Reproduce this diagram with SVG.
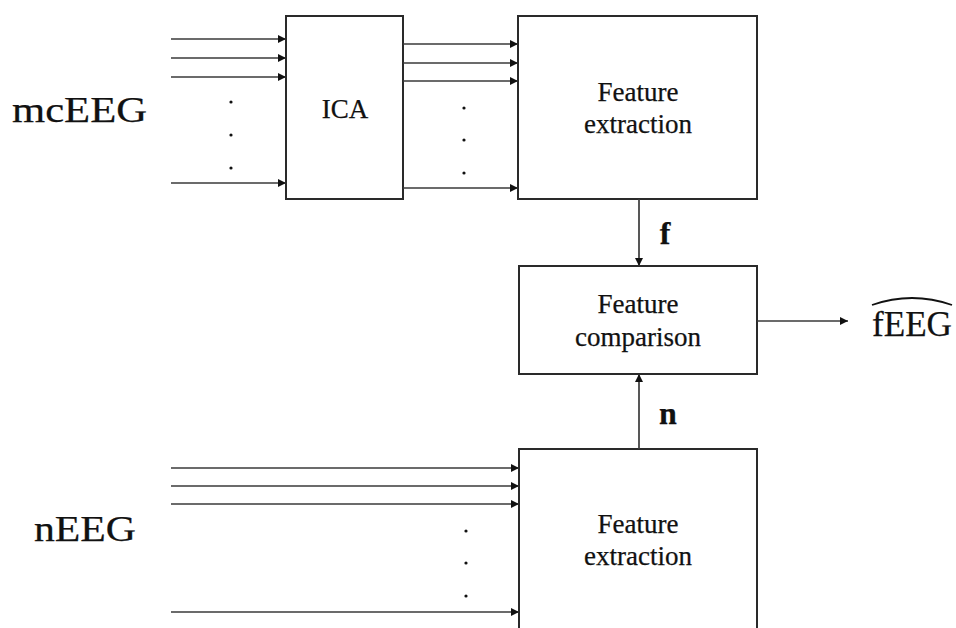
<svg xmlns="http://www.w3.org/2000/svg" width="956" height="628" viewBox="0 0 956 628">
  <style>
    .box { fill: #ffffff; stroke: #2a2a2a; stroke-width: 2; }
    .wire { fill: none; stroke: #3a3a3a; stroke-width: 1.7; }
    .lbl { font-family: "Liberation Serif", "Times New Roman", serif; fill: #111111; stroke: #111111; stroke-width: 0.25; }
    .blk { font-size: 27px; text-anchor: middle; }
    .sig { font-size: 35px; }
    .bold { font-size: 32px; font-weight: bold; }
    .dot { fill: #111111; }
  </style>
  <defs>
    <marker id="arr" viewBox="0 0 10 10" refX="10" refY="5" markerWidth="9" markerHeight="8" markerUnits="userSpaceOnUse" orient="auto">
      <path d="M0,0 L10,5 L0,10 z" fill="#111111"/>
    </marker>
  </defs>

  <rect width="956" height="628" fill="#ffffff"/>

  <!-- signal labels -->
  <text class="lbl sig" x="12" y="122" textLength="135" lengthAdjust="spacingAndGlyphs">mcEEG</text>
  <text class="lbl sig" x="34" y="541" textLength="102" lengthAdjust="spacingAndGlyphs">nEEG</text>

  <g id="ica">
    <rect class="box" x="286" y="16" width="117" height="183"/>
    <text class="lbl blk" x="345" y="118">ICA</text>
  </g>

  <g id="feat-top">
    <rect class="box" x="518" y="16" width="239" height="183"/>
    <text class="lbl blk" x="638" y="101">Feature</text>
    <text class="lbl blk" x="638" y="133">extraction</text>
  </g>

  <g id="compare">
    <rect class="box" x="519" y="266" width="238" height="108"/>
    <text class="lbl blk" x="638" y="313">Feature</text>
    <text class="lbl blk" x="638" y="346">comparison</text>
  </g>

  <g id="feat-bottom">
    <rect class="box" x="519" y="449" width="238" height="190"/>
    <text class="lbl blk" x="638" y="533">Feature</text>
    <text class="lbl blk" x="638" y="565">extraction</text>
  </g>

  <g id="output">
    <text class="lbl" x="872" y="336" font-size="35" textLength="80" lengthAdjust="spacingAndGlyphs">fEEG</text>
    <path d="M872,305 Q912,291 952,305" fill="none" stroke="#111111" stroke-width="1.8"/>
  </g>

  <g id="connectors">
    <!-- mcEEG channels into ICA -->
    <line class="wire" x1="171" y1="39" x2="286" y2="39" marker-end="url(#arr)"/>
    <line class="wire" x1="171" y1="58" x2="286" y2="58" marker-end="url(#arr)"/>
    <line class="wire" x1="171" y1="77" x2="286" y2="77" marker-end="url(#arr)"/>
    <line class="wire" x1="171" y1="183" x2="286" y2="183" marker-end="url(#arr)"/>
    <!-- ICA components into feature extraction -->
    <line class="wire" x1="403" y1="44" x2="518" y2="44" marker-end="url(#arr)"/>
    <line class="wire" x1="403" y1="63" x2="518" y2="63" marker-end="url(#arr)"/>
    <line class="wire" x1="403" y1="81" x2="518" y2="81" marker-end="url(#arr)"/>
    <line class="wire" x1="403" y1="188" x2="518" y2="188" marker-end="url(#arr)"/>
    <!-- feature vectors -->
    <line class="wire" x1="639" y1="199" x2="639" y2="266" marker-end="url(#arr)"/>
    <line class="wire" x1="639" y1="449" x2="639" y2="374" marker-end="url(#arr)"/>
    <line class="wire" x1="757" y1="321" x2="848" y2="321" marker-end="url(#arr)"/>
    <!-- nEEG channels into feature extraction -->
    <line class="wire" x1="171" y1="468" x2="519" y2="468" marker-end="url(#arr)"/>
    <line class="wire" x1="171" y1="486" x2="519" y2="486" marker-end="url(#arr)"/>
    <line class="wire" x1="171" y1="504" x2="519" y2="504" marker-end="url(#arr)"/>
    <line class="wire" x1="171" y1="612" x2="519" y2="612" marker-end="url(#arr)"/>
  </g>

  <!-- edge labels -->
  <text class="lbl bold" x="665" y="244" text-anchor="middle">f</text>
  <text class="lbl bold" x="668" y="424" text-anchor="middle">n</text>

  <!-- ellipsis dots -->
  <circle class="dot" cx="231" cy="102" r="1.6"/>
  <circle class="dot" cx="231" cy="135" r="1.6"/>
  <circle class="dot" cx="231" cy="168" r="1.6"/>
  <circle class="dot" cx="464" cy="108" r="1.6"/>
  <circle class="dot" cx="464" cy="140" r="1.6"/>
  <circle class="dot" cx="464" cy="173" r="1.6"/>
  <circle class="dot" cx="466" cy="531" r="1.6"/>
  <circle class="dot" cx="466" cy="563" r="1.6"/>
  <circle class="dot" cx="466" cy="596" r="1.6"/>
</svg>
